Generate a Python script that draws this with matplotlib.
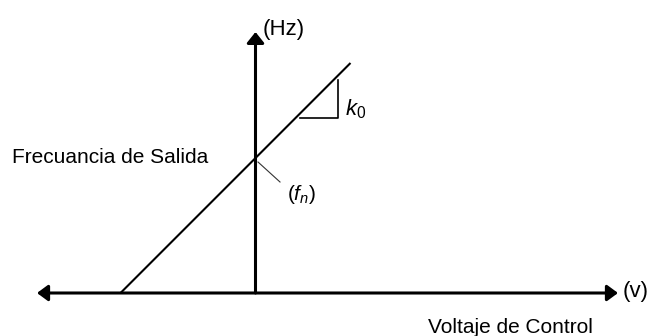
import matplotlib
matplotlib.use("Agg")
import matplotlib.pyplot as plt

plt.rcParams['font.family'] = ['Liberation Sans', 'DejaVu Sans']
plt.rcParams['mathtext.fontset'] = 'custom'
plt.rcParams['mathtext.rm'] = 'Liberation Sans'
plt.rcParams['mathtext.it'] = 'Liberation Sans:italic'

# Ejes (unidades arbitrarias, origen en el cruce de ejes)
voltaje_eje = [-218.5, 362.5]     # extremos del eje horizontal
frecuencia_eje = [0, 261]         # extremos del eje vertical

# Recta del VCO
voltaje = [-135, 95]
frecuencia = [0, 230]
f_n = 135                         # frecuencia libre (corte con el eje)

# Triangulo de la pendiente k0
tri_v = [44, 82, 82]
tri_f = [175, 175, 213]

fig = plt.figure(figsize=(6.5, 3.36), dpi=100)
ax = fig.add_axes([0, 0, 1, 1])
ax.set_xlim(-255.5, 394.5)
ax.set_ylim(-43, 293)
ax.axis('off')

# eje horizontal con doble flecha
ax.annotate('', xy=(voltaje_eje[1], 0), xytext=(voltaje_eje[0], 0),
            arrowprops=dict(arrowstyle='<|-|>,head_length=0.65,head_width=0.48',
                            lw=2.2, color='black', shrinkA=0, shrinkB=0))
# eje vertical
ax.annotate('', xy=(0, frecuencia_eje[1]), xytext=(0, frecuencia_eje[0]),
            arrowprops=dict(arrowstyle='-|>,head_length=0.65,head_width=0.52',
                            lw=2.2, color='black', shrinkA=0, shrinkB=0))

ax.plot(voltaje, frecuencia, color='black', lw=1.5, solid_capstyle='butt')
ax.plot(tri_v, tri_f, color='black', lw=1.2)

# linea guia hacia f_n
ax.plot([2.5, 24.5], [f_n - 4, f_n - 24], color='#333333', lw=0.8)

ax.text(7.5, 258, '(Hz)', fontsize=16, va='baseline', ha='left')
ax.text(367.5, -4, '(v)', fontsize=16, va='baseline', ha='left')
ax.text(-243.5, 130, 'Frecuancia de Salida', fontsize=15, va='baseline', ha='left')
ax.text(172.5, -40, 'Voltaje de Control', fontsize=15, va='baseline', ha='left')
ax.text(89.5, 178, r'$k_0$', fontsize=16, va='baseline', ha='left')
ax.text(31.5, 93, r'$(f_n)$', fontsize=15, va='baseline', ha='left')

fig.savefig('out.png', dpi=100)
